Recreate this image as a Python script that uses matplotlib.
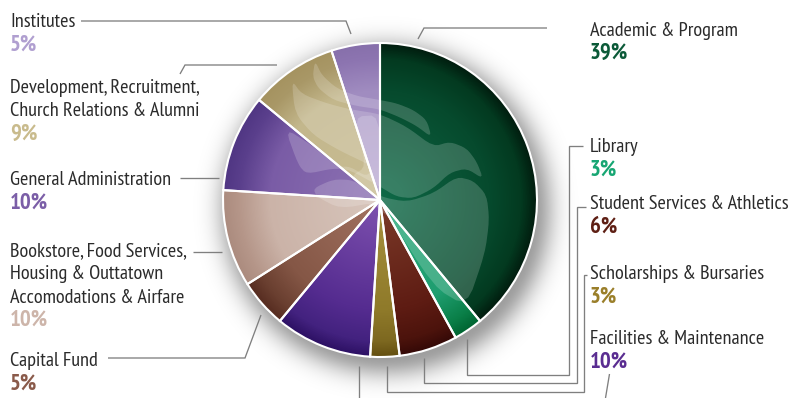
import numpy as np
import matplotlib
matplotlib.use("Agg")
import matplotlib.pyplot as plt
from matplotlib.colors import LinearSegmentedColormap, to_rgb
from matplotlib.patches import Circle, Polygon

WIDTH, HEIGHT = 791, 398

# Budget shares, clockwise from twelve o'clock
categories = [
    "Academic & Program",
    "Library",
    "Student Services & Athletics",
    "Scholarships & Bursaries",
    "Facilities & Maintenance",
    "Capital Fund",
    "Bookstore, Food Services,\nHousing & Outtatown\nAccomodations & Airfare",
    "General Administration",
    "Development, Recruitment,\nChurch Relations & Alumni",
    "Institutes",
]
shares = [39, 3, 6, 3, 10, 5, 10, 10, 9, 5]
pct_colors = ["#0b5a38", "#17a673", "#5e1f14", "#9a7f2a", "#5a2d91",
              "#8a5a4a", "#cdb5aa", "#7b5ea7", "#c9bb8d", "#b09fd0"]
# Radial colour ramps: centre, body, rim edge, outer edge
ramps = [
    ["#0f6a48", "#064a2d", "#033a20", "#011c0e"],
    ["#25a877", "#1f9e70", "#0a7f48", "#006431"],
    ["#7d3c2a", "#5e1c13", "#4c130c", "#340907"],
    ["#a8923e", "#8f7a2a", "#7d6820", "#644e10"],
    ["#7f52b0", "#552c90", "#43227f", "#2c1063"],
    ["#a27261", "#855746", "#6a3f30", "#562c20"],
    ["#d8c6bc", "#cbb3a8", "#b59689", "#ab8b7e"],
    ["#8e74b4", "#7a5ca6", "#5a3f8c", "#503683"],
    ["#c9bd94", "#c3b78c", "#a99867", "#a59360"],
    ["#b09dcc", "#a08cc0", "#8d75b1", "#8770ab"],
]
label_x = [590, 590, 590, 590, 590, 10, 10, 10, 10, 10]
label_baseline = [36, 152, 209, 279, 344, 366, 256, 185, 93, 27]

# Leader lines, as (x, y) runs in pixels from the top left
leaders = [
    [(81, 21), (346, 21), (351, 34)],
    [(547, 28), (424, 28), (418, 39)],
    [(180, 74), (185, 65), (277, 65)],
    [(180, 178), (219, 178)],
    [(193, 252), (222, 252)],
    [(108, 358), (245, 358), (261, 315)],
    [(583, 146), (568.5, 146), (568.5, 374.5), (466.5, 374.5), (466.5, 339)],
    [(586, 207), (576.5, 207), (576.5, 383), (423.5, 383), (423.5, 358)],
    [(587, 275), (584, 275), (584, 391.5), (386.5, 391.5), (386.5, 366)],
    [(609.5, 374), (605.5, 398)],
    [(358.5, 366), (358.5, 398)],
]

# Crest artwork traced over the pie, in the crest's own drawing units
crest_shapes = [
    [(540, 240), (590, 250), (640, 270), (680, 300), (695, 352), (650, 318),
     (600, 292), (540, 268), (470, 258), (400, 240), (355, 205), (338, 170),
     (345, 122), (365, 165), (410, 205), (470, 228)],
    [(540, 282), (620, 320), (700, 380), (750, 365), (800, 385), (830, 425),
     (850, 477), (800, 445), (750, 458), (700, 505), (640, 535), (590, 530),
     (540, 500), (450, 450), (400, 445), (320, 462), (295, 435), (255, 325),
     (330, 372), (415, 440), (450, 440), (500, 470), (520, 440), (415, 390),
     (340, 345), (285, 280), (275, 180), (305, 222), (380, 250), (450, 268)],
    [(540, 530), (620, 546), (700, 520), (770, 470), (820, 482), (860, 525),
     (868, 600), (855, 700), (800, 860), (700, 800), (540, 545), (420, 566),
     (350, 530), (340, 505), (400, 478), (460, 480)],
    [(540, 285), (540, 520), (520, 520), (450, 470), (500, 440), (460, 290)],
]

CENTER_X, CENTER_Y, RADIUS = 380, 200, 157


def to_data(x, y):
    return x, HEIGHT - y


def rounded(points, passes=2):
    """Round off a closed outline by corner cutting."""
    pts = np.asarray(points, dtype=float)
    for _ in range(passes):
        nxt = np.roll(pts, -1, axis=0)
        pts = np.column_stack([0.8 * pts + 0.2 * nxt, 0.2 * pts + 0.8 * nxt]).reshape(-1, 2)
    return pts


text_fonts = ["PT Sans Narrow", "Roboto Condensed", "Liberation Sans", "DejaVu Sans"]
plt.rcParams["font.family"] = text_fonts

fig = plt.figure(figsize=(WIDTH / 100, HEIGHT / 100), dpi=100, facecolor="white")
ax = fig.add_axes([0, 0, 1, 1])

cx, cy = to_data(CENTER_X, CENTER_Y)
wedges, _ = ax.pie(
    shares,
    colors=[r[1] for r in ramps],
    startangle=90,
    counterclock=False,
    center=(cx, cy),
    radius=RADIUS,
    wedgeprops={"edgecolor": "white", "linewidth": 1.5},
)
ax.set_xlim(0, WIDTH)
ax.set_ylim(0, HEIGHT)
ax.set_aspect("equal")
ax.set_autoscale_on(False)
ax.axis("off")

# Soft drop shadow behind the pie, offset towards the lower right
gx, gy = np.meshgrid(np.arange(WIDTH) + 0.5, np.arange(HEIGHT) + 0.5)
dist = np.hypot(gx - (CENTER_X + 6), gy - (CENTER_Y + 9))
shadow_alpha = 0.38 * np.exp(-(np.clip(dist - 148, 0, None) / 21) ** 2)
shadow = np.zeros((HEIGHT, WIDTH, 4))
shadow[..., 3] = shadow_alpha
ax.imshow(shadow, extent=(0, WIDTH, 0, HEIGHT), origin="upper", zorder=0)

# Paint each slice with its own radial ramp, clipped to the wedge
radial = np.hypot(gx - CENTER_X, gy - CENTER_Y) / RADIUS
for wedge, ramp in zip(wedges, ramps):
    cmap = LinearSegmentedColormap.from_list(
        "slice", list(zip([0.0, 0.7, 0.9, 1.0], [to_rgb(c) for c in ramp]))
    )
    image = ax.imshow(
        np.clip(radial, 0, 1),
        cmap=cmap,
        vmin=0,
        vmax=1,
        extent=(0, WIDTH, 0, HEIGHT),
        origin="upper",
        zorder=2,
    )
    image.set_clip_path(wedge)
    wedge.set_facecolor("none")
    wedge.set_zorder(5)

# Crest in translucent white, kept inside the pie
disc = Circle((cx, cy), RADIUS, transform=ax.transData)
for shape in crest_shapes:
    points = [to_data(x / 3 + 200, y / 3 + 20) for x, y in rounded(shape)]
    patch = Polygon(points, closed=True, facecolor="white", edgecolor="none",
                    alpha=0.18, zorder=3)
    ax.add_patch(patch)
    patch.set_clip_path(disc)

# Leader lines
for run in leaders:
    xs, ys = zip(*[to_data(x, y) for x, y in run])
    ax.plot(xs, ys, color="#7f7f7f", lw=0.95, solid_joinstyle="miter",
            solid_capstyle="butt", zorder=6, clip_on=False)

# Category names with their share underneath
LINE_STEP = 23.3
for name, share, colour, x, base in zip(categories, shares, pct_colors, label_x, label_baseline):
    lines = name.split("\n")
    for i, line in enumerate(lines):
        px, py = to_data(x, base + i * LINE_STEP)
        ax.text(px, py, line, fontsize=14.6, color="#2b2b2b", va="baseline", ha="left", zorder=7)
    px, py = to_data(x, base + len(lines) * LINE_STEP)
    ax.text(px, py, f"{share}%", fontsize=16.5, fontweight="bold", color=colour,
            va="baseline", ha="left", zorder=7)

fig.savefig("out.png", dpi=100)
